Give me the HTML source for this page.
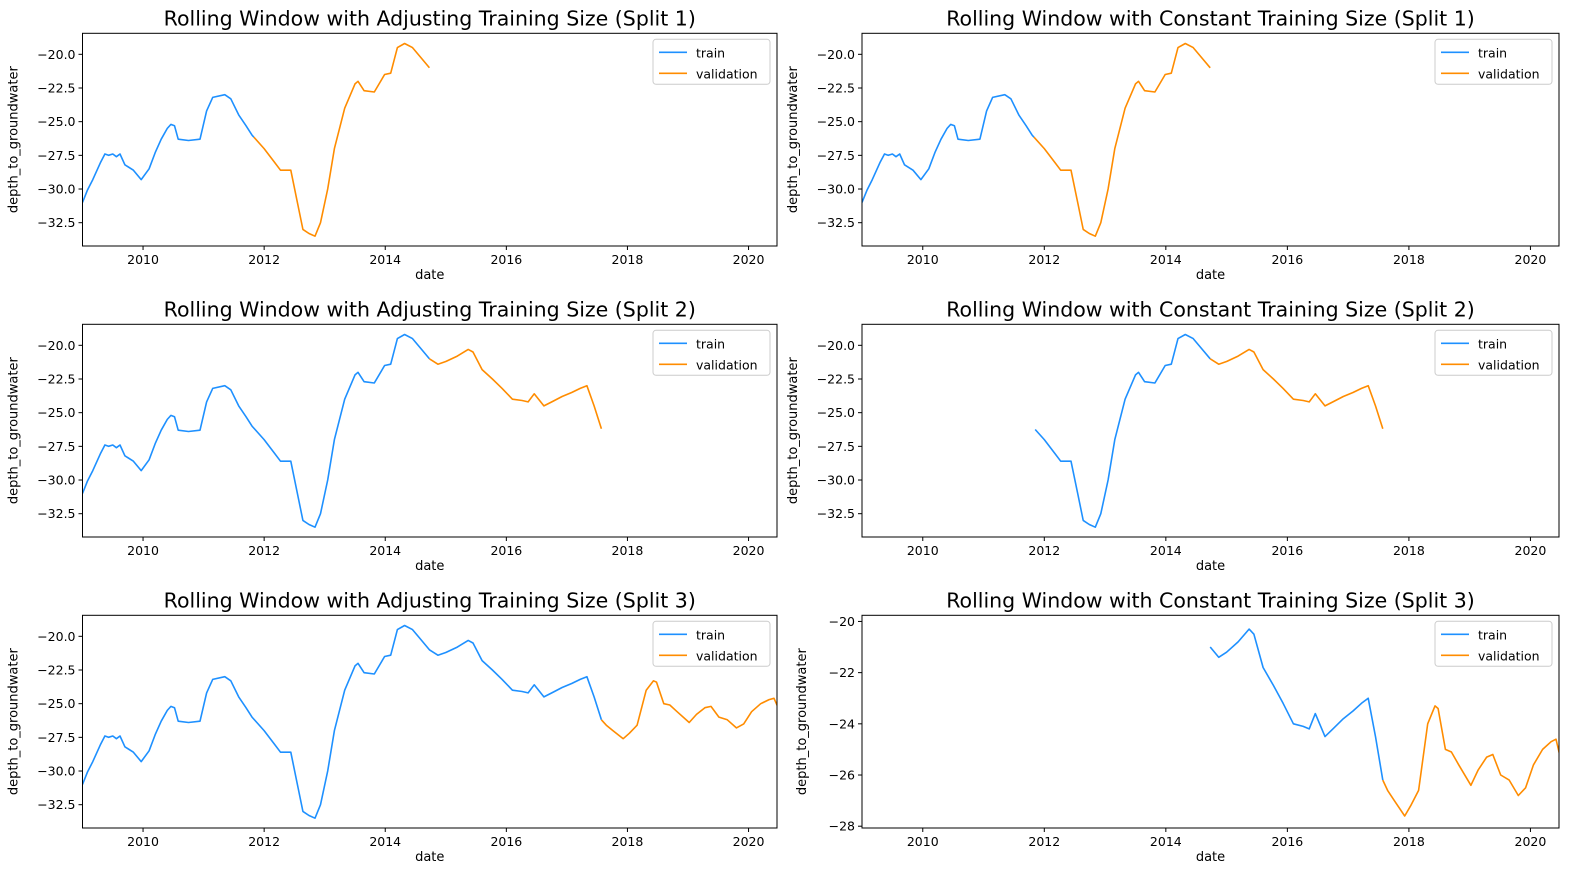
<!DOCTYPE html>
<html><head><meta charset="utf-8"><style>
body{margin:0;background:#fff;font-family:"Liberation Sans","DejaVu Sans",sans-serif;overflow:hidden}
svg text{font-family:"DejaVu Sans","Liberation Sans",sans-serif}
</style></head><body>
<svg id="fig" width="1589" height="889" xmlns="http://www.w3.org/2000/svg"></svg>
<script>
const years=[2009.0,2009.08,2009.17,2009.3,2009.37,2009.43,2009.5,2009.56,2009.62,2009.7,2009.84,2009.97,2010.1,2010.2,2010.3,2010.4,2010.46,2010.52,2010.58,2010.75,2010.94,2011.05,2011.15,2011.35,2011.45,2011.58,2011.7,2011.8,2012.0,2012.17,2012.27,2012.44,2012.55,2012.64,2012.74,2012.84,2012.93,2013.05,2013.16,2013.33,2013.5,2013.55,2013.65,2013.82,2013.99,2014.09,2014.2,2014.32,2014.45,2014.58,2014.73,2014.87,2015.0,2015.19,2015.37,2015.45,2015.6,2015.77,2015.93,2016.1,2016.26,2016.36,2016.46,2016.62,2016.75,2016.92,2017.08,2017.22,2017.33,2017.45,2017.57,2017.65,2017.76,2017.93,2018.03,2018.16,2018.31,2018.43,2018.48,2018.6,2018.7,2018.82,2019.02,2019.14,2019.28,2019.38,2019.51,2019.65,2019.8,2019.92,2020.05,2020.2,2020.34,2020.42,2020.48];
const depths=[-31.0,-30.1,-29.3,-28.0,-27.4,-27.5,-27.4,-27.6,-27.4,-28.2,-28.6,-29.3,-28.5,-27.3,-26.3,-25.5,-25.2,-25.3,-26.3,-26.4,-26.3,-24.2,-23.2,-23.0,-23.3,-24.5,-25.3,-26.0,-27.0,-28.0,-28.6,-28.6,-31.0,-33.0,-33.3,-33.5,-32.5,-30.0,-27.0,-24.0,-22.2,-22.0,-22.7,-22.8,-21.5,-21.4,-19.5,-19.2,-19.5,-20.2,-21.0,-21.4,-21.2,-20.8,-20.3,-20.5,-21.8,-22.5,-23.2,-24.0,-24.1,-24.2,-23.6,-24.5,-24.2,-23.8,-23.5,-23.2,-23.0,-24.5,-26.2,-26.6,-27.0,-27.6,-27.2,-26.6,-24.0,-23.3,-23.4,-25.0,-25.1,-25.6,-26.4,-25.8,-25.3,-25.2,-26.0,-26.2,-26.8,-26.5,-25.6,-25.0,-24.7,-24.6,-25.2];
const xTicks=[2010,2012,2014,2016,2018,2020];
const yTicksA=[-20,-22.5,-25,-27.5,-30,-32.5];
const yTicksB=[-20,-22,-24,-26,-28];
const splitEnds=[2011.83,2014.73,2017.57,2020.48];
const constStarts=[2009.0,2011.85,2014.73];

const NS="http://www.w3.org/2000/svg";
const svg=document.getElementById('fig');
function mk(tag,attrs,parent,txt){const e=document.createElementNS(NS,tag);for(const k in attrs)e.setAttribute(k,attrs[k]);if(txt!==undefined)e.textContent=txt;(parent||svg).appendChild(e);return e;}
function interp(t){for(let i=1;i<years.length;i++){if(years[i]>=t){const f=(t-years[i-1])/(years[i]-years[i-1]);return depths[i-1]+f*(depths[i]-depths[i-1]);}}return depths[depths.length-1];}

function panel(col,row){
  const L=col?862:82.5,R=col?1559:777,T=33.3+row*291,B=246+row*291;
  const constant=col===1;
  const yMin=(constant&&row===2)?-28.07:-34.23, yMax=(constant&&row===2)?-19.76:-18.44;
  const yT=(constant&&row===2)?yTicksB:yTicksA;
  const sxf=v=>L+(v-2009.0)/(2020.47-2009.0)*(R-L);
  const sy=v=>T+(yMax-v)/(yMax-yMin)*(B-T);
  const g=mk('g',{},svg);
  
  
  const clip='c'+col+row;
  const cp=mk('clipPath',{id:clip},g);mk('rect',{x:L,y:T,width:R-L,height:B-T},cp);
  const trS=constant?constStarts[row]:2009.0, trE=splitEnds[row], vE=splitEnds[row+1];
  function line(a,b,color,name){
    const pts=[sxf(a).toFixed(1)+','+sy(interp(a)).toFixed(1)];
    for(let i=0;i<years.length;i++){if(years[i]>a+1e-6&&years[i]<b-1e-6)pts.push(sxf(years[i]).toFixed(1)+','+sy(depths[i]).toFixed(1));}
    pts.push(sxf(b).toFixed(1)+','+sy(interp(b)).toFixed(1));
    const p=mk('polyline',{points:pts.join(' '),fill:'none',stroke:color,'stroke-width':1.6,'stroke-linejoin':'round','clip-path':'url(#'+clip+')'},g);
    
    
  }
  line(trS,trE,'#1e90ff','train-line');
  line(trE,vE,'#ff8c00','validation-line');
  mk('rect',{x:L,y:T,width:R-L,height:B-T,fill:'none',stroke:'#000','stroke-width':1},g);
  xTicks.forEach(t=>{const x=sxf(t);mk('line',{x1:x,x2:x,y1:B,y2:B+4,stroke:'#000'},g);
    const tx=mk('text',{x:x,y:B+18,'font-size':12.5,'text-anchor':'middle'},g,String(t));
    });
  yT.forEach(t=>{const y=sy(t);mk('line',{x1:L-4,x2:L,y1:y,y2:y,stroke:'#000'},g);
    const s=(t<0?'\u2212':'')+(yT===yTicksA?Math.abs(t).toFixed(1):String(Math.abs(t)));
    const tx=mk('text',{x:L-7,y:y+4.5,'font-size':12.5,'text-anchor':'end'},g,s);
    });
  const xl=mk('text',{x:(L+R)/2,y:B+33,'font-size':13,'text-anchor':'middle'},g,'date');
  
  const yx=L-(yT===yTicksA?65:56);
  const yl=mk('text',{x:yx,y:(T+B)/2,'font-size':13,'text-anchor':'middle',transform:'rotate(-90 '+yx+' '+(T+B)/2+')'},g,'depth_to_groundwater');
  
  const tt=mk('text',{x:(L+R)/2,y:T-8,'font-size':20.5,'text-anchor':'middle'},g,'Rolling Window with '+(constant?'Constant':'Adjusting')+' Training Size (Split '+(row+1)+')');
  
  const lg=mk('g',{},g);
  
  const lx=R-124,ly=T+6;
  mk('rect',{x:lx,y:ly,width:117,height:45,rx:3,fill:'#fff',stroke:'#ccc'},lg);
  mk('line',{x1:lx+6,x2:lx+34,y1:ly+13,y2:ly+13,stroke:'#1e90ff','stroke-width':1.6},lg);
  mk('line',{x1:lx+6,x2:lx+34,y1:ly+34,y2:ly+34,stroke:'#ff8c00','stroke-width':1.6},lg);
  const e1=mk('text',{x:lx+43,y:ly+18,'font-size':12.5},lg,'train');
  
  const e2=mk('text',{x:lx+43,y:ly+39,'font-size':12.5},lg,'validation');
  
}
for(let r=0;r<3;r++){panel(0,r);panel(1,r);}
</script>
</body></html>
